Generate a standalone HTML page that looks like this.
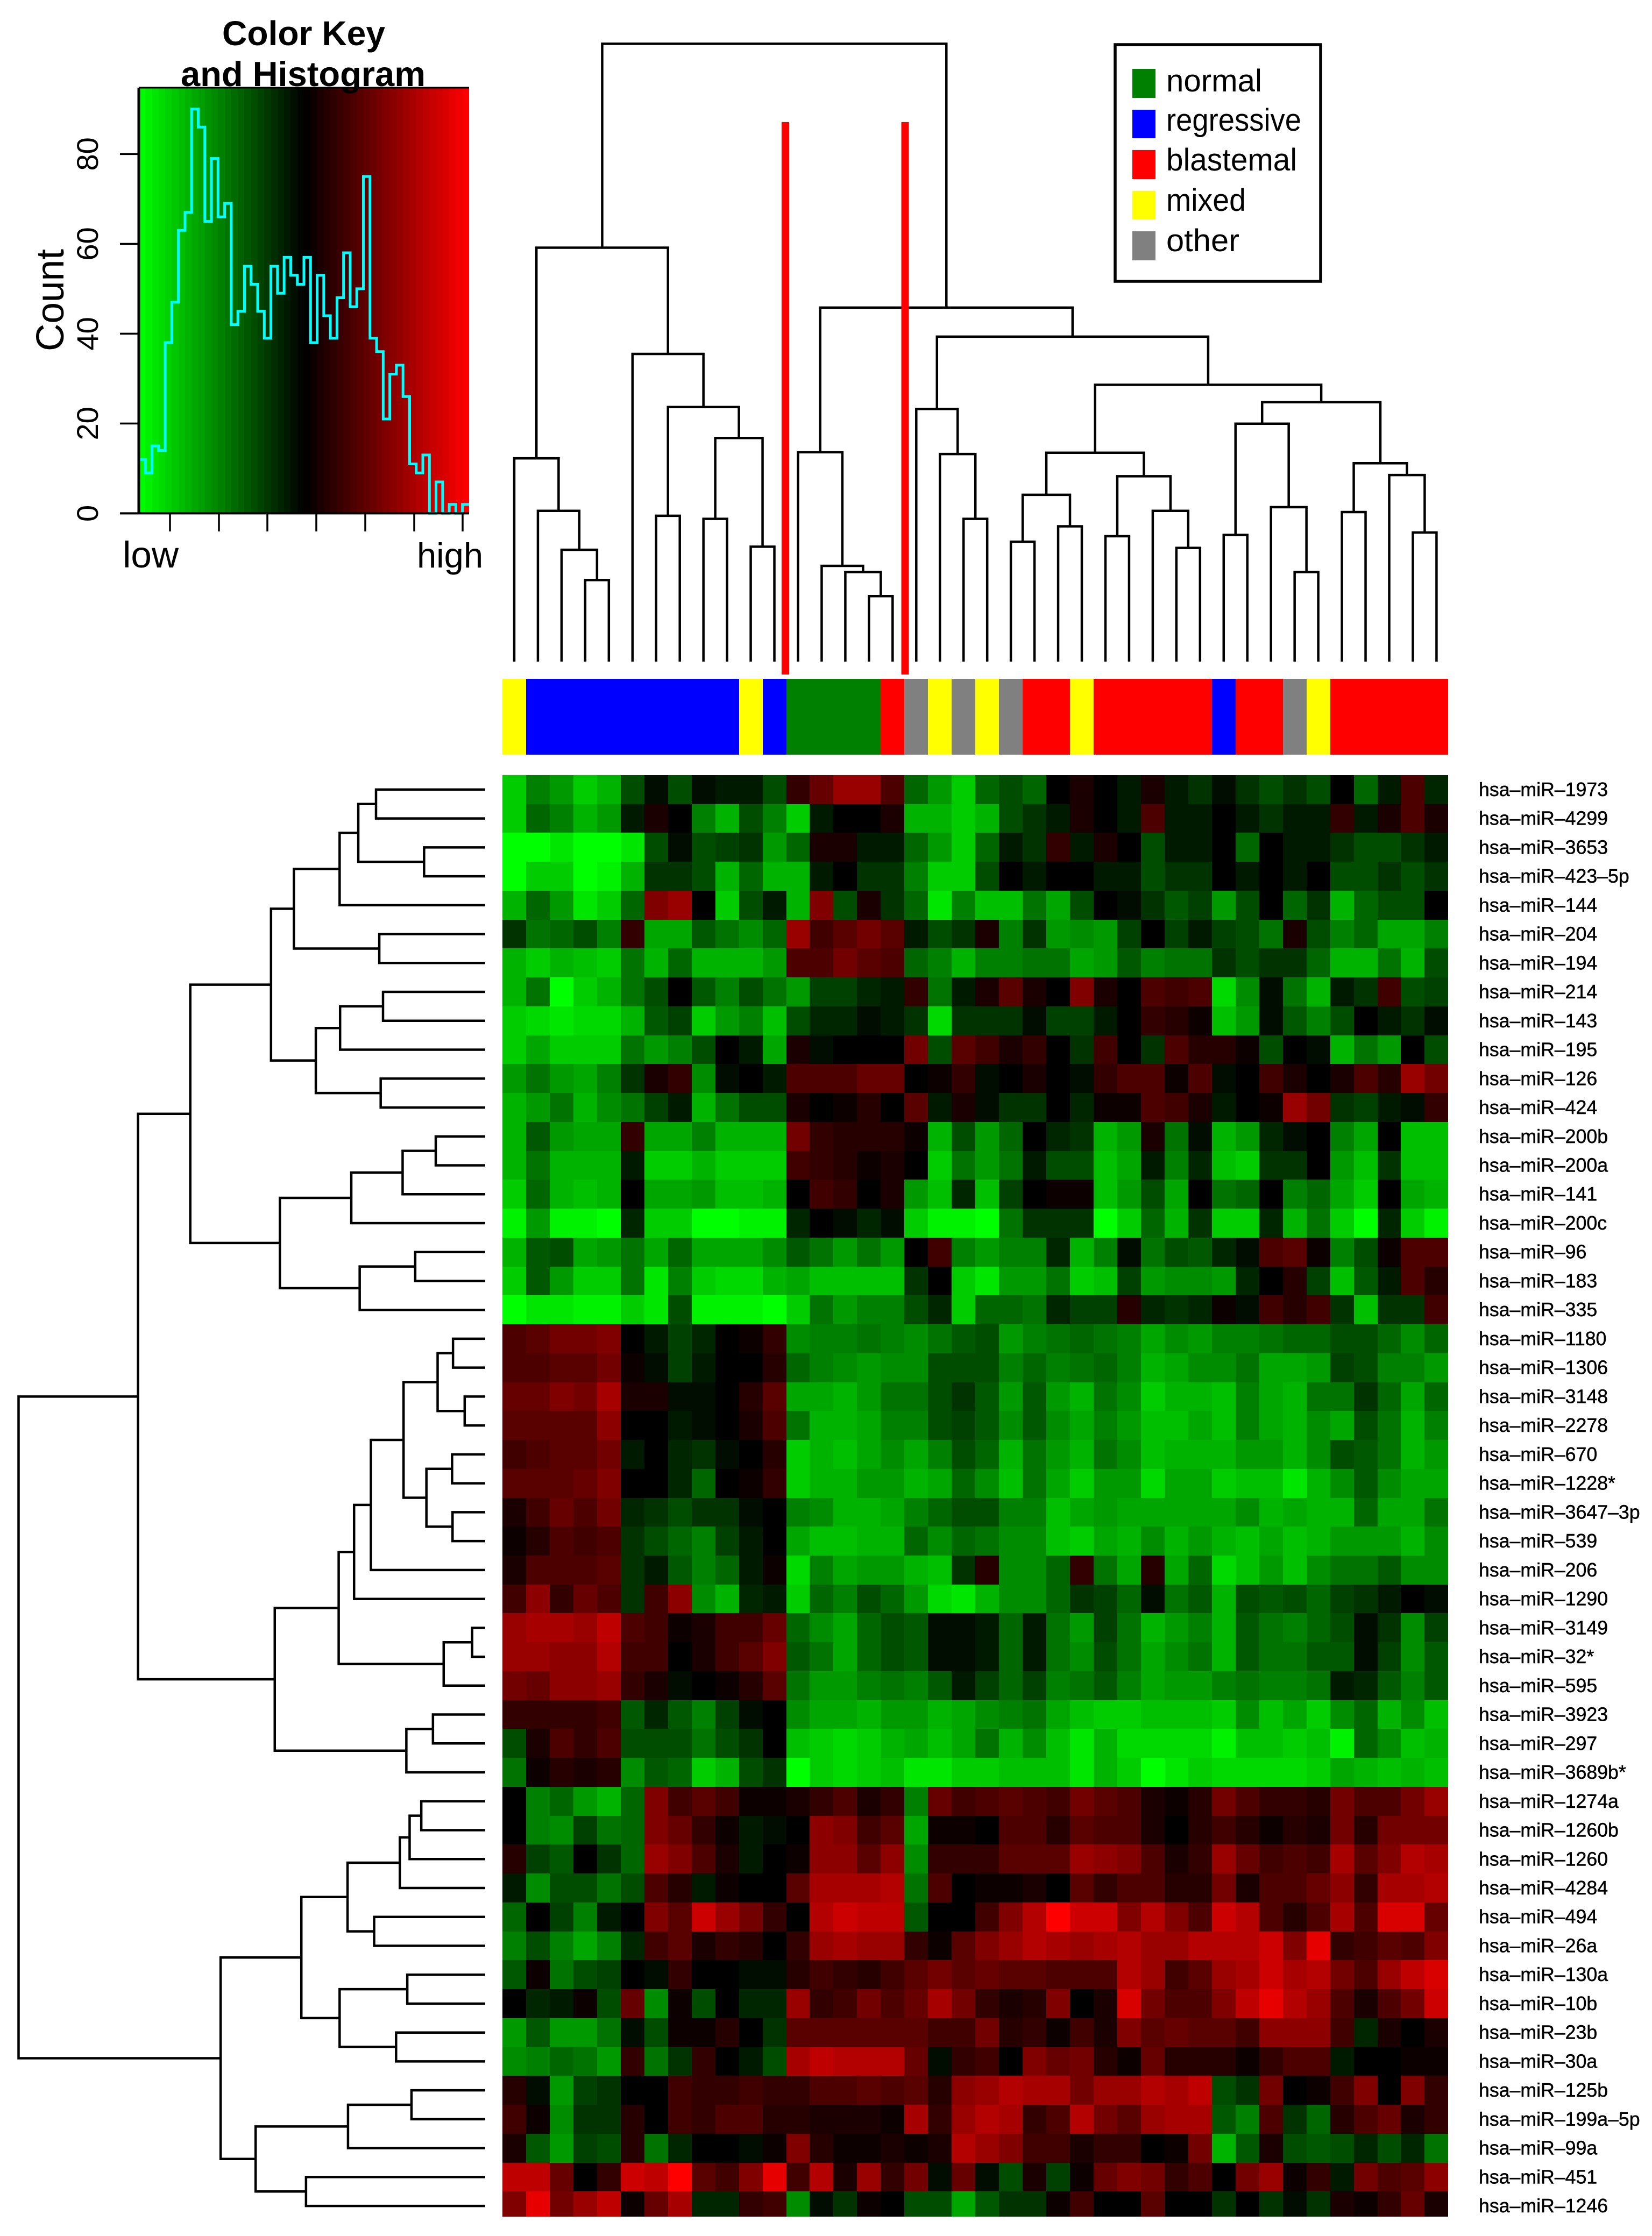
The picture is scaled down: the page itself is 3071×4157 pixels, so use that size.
<!DOCTYPE html>
<html lang="en">
<head>
<meta charset="utf-8">
<title>miRNA clustered heatmap</title>
<style>
html,body{margin:0;padding:0;background:#fff;width:3071px;height:4157px;overflow:hidden}
svg{display:block}
text{font-family:"Liberation Sans",sans-serif;fill:#000}
</style>
</head>
<body>
<svg id="chart" xmlns="http://www.w3.org/2000/svg" width="3071" height="4157" viewBox="0 0 3071 4157">
  <rect x="0" y="0" width="3071" height="4157" fill="#fff"/>
  <g id="key"></g>
  <g id="topTree"></g>
  <g id="leftTree"></g>
  <g id="colorBar"></g>
  <g id="heat" shape-rendering="crispEdges"></g>
  <g id="labels"></g>

  <rect x="1453" y="227" width="14" height="1027" fill="#ff0000"/>
  <rect x="1675.5" y="227" width="14" height="1027" fill="#ff0000"/>

  <g>
    <rect x="2073" y="83" width="382" height="440" fill="#fff" stroke="#000" stroke-width="5.5"/>
    <rect x="2105" y="128" width="43" height="54" fill="#008000"/>
    <rect x="2105" y="204" width="43" height="53" fill="#0000ff"/>
    <rect x="2105" y="279" width="43" height="54" fill="#ff0000"/>
    <rect x="2105" y="355" width="43" height="53" fill="#ffff00"/>
    <rect x="2105" y="430" width="43" height="54" fill="#808080"/>
    <text x="2168" y="170" font-size="58" textLength="178" lengthAdjust="spacingAndGlyphs">normal</text>
    <text x="2168" y="243" font-size="58" textLength="251" lengthAdjust="spacingAndGlyphs">regressive</text>
    <text x="2168" y="317" font-size="58" textLength="243" lengthAdjust="spacingAndGlyphs">blastemal</text>
    <text x="2168" y="392" font-size="58" textLength="148" lengthAdjust="spacingAndGlyphs">mixed</text>
    <text x="2168" y="467" font-size="58" textLength="136" lengthAdjust="spacingAndGlyphs">other</text>
  </g>
</svg>

<script>
// ---------- data ----------
const rowLabels = ["hsa–miR–1973","hsa–miR–4299","hsa–miR–3653","hsa–miR–423–5p","hsa–miR–144","hsa–miR–204","hsa–miR–194","hsa–miR–214","hsa–miR–143","hsa–miR–195","hsa–miR–126","hsa–miR–424","hsa–miR–200b","hsa–miR–200a","hsa–miR–141","hsa–miR–200c","hsa–miR–96","hsa–miR–183","hsa–miR–335","hsa–miR–1180","hsa–miR–1306","hsa–miR–3148","hsa–miR–2278","hsa–miR–670","hsa–miR–1228*","hsa–miR–3647–3p","hsa–miR–539","hsa–miR–206","hsa–miR–1290","hsa–miR–3149","hsa–miR–32*","hsa–miR–595","hsa–miR–3923","hsa–miR–297","hsa–miR–3689b*","hsa–miR–1274a","hsa–miR–1260b","hsa–miR–1260","hsa–miR–4284","hsa–miR–494","hsa–miR–26a","hsa–miR–130a","hsa–miR–10b","hsa–miR–23b","hsa–miR–30a","hsa–miR–125b","hsa–miR–199a–5p","hsa–miR–99a","hsa–miR–451","hsa–miR–1246"];

const columnClasses = ["mixed","regressive","regressive","regressive","regressive","regressive","regressive","regressive","regressive","regressive","mixed","regressive","normal","normal","normal","normal","blastemal","other","mixed","other","mixed","other","blastemal","blastemal","mixed","blastemal","blastemal","blastemal","blastemal","blastemal","regressive","blastemal","blastemal","other","mixed","blastemal","blastemal","blastemal","blastemal","blastemal"];

const classColors = {normal:"#008000",regressive:"#0000ff",blastemal:"#ff0000",mixed:"#ffff00",other:"#808080"};

const heatValues = [
[-8,-5,-6,-8,-7,-3,-.5,-3,-.5,-1,-1,-3,2,4,6,6,3,-4,-6,-8,-4,-3,-4,0,1,0,-1,1,-1,-2,-.5,-2,-3,-2,-3,0,-4,-1,3,-1.5],
[-8,-4,-5,-7,-6,-1,1,0,-5,-7,-3,-5,-8,-1,0,0,1,-7,-7,-8,-7,-3,-2,-1,1,0,-1,3,-1,-1,0,-1,-2,-1,-1,2,-1,1,3,1],
[-10,-10,-9,-10,-10,-9,-3,-.5,-3,-2.5,-2,-6,-4,1,1,-1,-1,-4,-6,-8,-4,-1,-2,2,-1,1,0,-3,-1,-1,0,-4,0,-1,-1,-2,-3,-3,-2,-1],
[-10,-8,-8,-10,-9.5,-7,-2,-2,-3,-7,-4,-7,-7,-1,0,-2,-2,-5,-8,-8,-3,0,-1,0,0,-1,-1,-3,-2,-2,0,-1,0,-1,0,-3,-3,-2,-3,-2],
[-7,-4,-6,-9,-8,-4,5,6,0,-8,-3,-1,-7,5,-3,1,-2,-4,-9,-5,-7.5,-7.5,-4.5,-6.5,-3,0,-.5,-2,-3.5,-2.5,-6,-3,0,-4,-2,-7,-4,-3,-3,0],
[-2,-4.5,-4,-3,-5,2,-6.5,-6.5,-3.5,-4.5,-5.5,-4,6,2.5,3.5,4.5,3.5,-1,-3,-2,1,-5,-2,-6,-5.5,-6,-2.5,0,-2.5,-1,-2.5,-3,-4.5,1,-3,-5,-4,-6.5,-6.5,-5],
[-7,-8,-7,-7.5,-8,-4.5,-7,-4,-7,-7,-7,-6,3,3,4.5,3.5,3,-4,-5,-7,-5,-5,-4.5,-4.5,-6.5,-6,-3.5,-5,-4.5,-4.5,-2,-3,-2,-2,-4,-7,-7,-4.5,-7,-3],
[-7,-4.5,-10,-8,-7,-4.5,-3,0,-3.5,-5,-3,-4.5,-6,-2.5,-2.5,-1.5,-1,2,-4.5,-1,1,3.5,1,0,5,1,0,3,2.5,3,-8.5,-5.5,-.5,-4.5,-7,-1,-2,2.5,-3,-2.5],
[-8,-8.5,-9,-8.5,-8.5,-7,-3.5,-2.5,-8,-6,-5,-7.5,-3,-1.5,-1.5,-.5,-1,-2,-8.5,-2,-2,-2,-.5,-2.5,-2.5,-1,0,2,1.5,.5,-7.5,-6,-.5,-3.5,-5,-3,0,-1,-2,-.5],
[-8,-6.5,-8,-8,-8,-4.5,-6,-5,-3,0,-1,-6.5,1,-.5,0,0,0,4.5,-3,3.5,2.5,1,2,0,-2,2.5,0,-2,3,1.5,1.5,.5,-3,0,-.5,-7,-4.5,-6,0,-3],
[-6,-4.5,-6,-6.5,-5,-2,1,2,-5.5,-.5,0,-1,3,3,3,4,4,0,.5,2,-.5,0,1,0,-.5,2,3,3,.5,3,-.5,0,2.5,1,0,1,3,1.5,6,4.5],
[-7,-6,-4.5,-7,-5.5,-4.5,-2.5,-1,-7,-4.5,-3,-3,1,0,.5,1.5,0,3.5,-1,1,-.5,-2,-2,0,-1.5,.5,.5,3,2.5,1,-1,0,.5,6,4.5,-2,-2.5,-1,-.5,2],
[-7,-3.5,-6,-6.5,-6.5,2,-6.5,-6.5,-5,-7,-7,-7,4.5,2,1.5,1.5,1.5,.5,-7,-3,-6,-4,0,-1.5,-2,-7,-6,1,-4.5,-.5,-7,-6,-1.5,-.5,0,-5,-6.5,0,-7.5,-7.5],
[-7,-4.5,-7,-7,-7,-1,-8,-8,-7,-8,-8,-8,2.5,2,1.5,.5,1,0,-8,-4.5,-6,-4.5,-1,-3,-3,-7.5,-6.5,-1,-5,-1.5,-7.5,-8,-2,-2,0,-6,-7.5,-2,-7.5,-7.5],
[-8,-4,-7,-7.5,-7,0,-6.5,-6.5,-6,-7.5,-7.5,-7,0,2.5,2,0,1,-6,-7.5,-1.5,-7.5,-2.5,0,.5,.5,-7.5,-6,-3,-6.5,0,-4.5,-4,0,-5,-4,-6.5,-8,0,-6.5,-7],
[-9.5,-6,-9.5,-9.5,-10,-1.5,-8,-8,-10,-10,-9.5,-9.5,-1.5,0,-.5,-1.5,-.5,-8,-9.5,-9.5,-10,-4.5,-2,-2,-2,-10,-8,-4,-7,-2,-8,-8,-1.5,-7,-4.5,-8,-10,-1.5,-8,-9.5],
[-7,-3.5,-3,-6.5,-6,-4.5,-6.5,-4,-6.5,-6.5,-6.5,-5.5,-3.5,-4.5,-6,-4.5,-6,0,2.5,-5,-6,-5,-5,-1.5,-7,-5,-.5,-4.5,-3,-3.5,-1.5,-.5,3,3.5,.5,-5,-3,.5,3,3],
[-8,-3.5,-6,-8,-8,-4.5,-9,-5,-8,-8.5,-8.5,-7,-6.5,-7.5,-7.5,-7.5,-7.5,-2,0,-8,-9,-6,-6,-4.5,-8,-7.5,-2.5,-6,-5.5,-5.5,-6,-1.5,0,1.5,-2.5,-7.5,-3.5,-1,3,1.5],
[-10,-9,-9,-9.5,-9.5,-8,-9,-3,-9.5,-9.5,-9.5,-10,-8,-4.5,-6,-5,-5,-3,-1.5,-8,-4,-4,-4.5,-1.5,-2.5,-2.5,1.5,-1.5,-2,-1.5,.5,-.5,2.5,1.5,2.5,-2,-7.5,-2,-2,2.5],
[3,3.5,4.5,4.5,5,0,-1,-2.5,-1.5,0,.5,2,-5.5,-5,-5,-4.5,-5,-5.5,-4.5,-3.5,-3,-6,-5,-4.5,-4,-4.5,-5,-6.5,-5.5,-6,-5,-5,-4.5,-4,-4,-3,-3,-4,-5.5,-4],
[3,3,3.5,3.5,4.5,.5,-.5,-2.5,-1,0,0,1.5,-4,-5,-5.5,-6,-5.5,-5.5,-3,-3,-3,-5,-4,-5,-4.5,-4,-5,-7,-6.5,-5.5,-5.5,-4.5,-6.5,-6.5,-6,-2.5,-3,-5,-5,-6],
[4,4,5,4.5,6.5,1,1,-.5,-.5,0,1.5,3.5,-6.5,-6.5,-7,-6,-4.5,-4.5,-3,-2,-3.5,-6,-3.5,-6,-7,-4.5,-5.5,-8,-7,-7,-7.5,-5,-6.5,-7,-4.5,-4.5,-2,-4,-6.5,-4],
[3.5,3.5,3.5,3.5,5.5,0,0,-1,-.5,0,1,3,-4.5,-7,-7,-6.5,-5,-5,-3,-2.5,-3.5,-5.5,-3.5,-5.5,-6.5,-5,-6,-7.5,-7.5,-6.5,-7.5,-5,-6.5,-7,-5.5,-6.5,-3,-4.5,-7,-5],
[2.5,3,3.5,3.5,4.5,-1,0,-1.5,-2,-.5,0,1.5,-8,-7,-7.5,-6.5,-5.5,-6.5,-5,-3,-4,-7,-4.5,-6,-7,-4.5,-5.5,-7.5,-7,-7,-7,-6,-6,-7,-5.5,-3,-3.5,-4.5,-7,-6],
[3.5,3.5,3.5,4,5,0,0,-1.5,-4,0,.5,2,-8,-7,-7,-6,-6,-7,-6.5,-4,-5.5,-7.5,-4.5,-6.5,-8,-6,-6,-8.5,-6.5,-6.5,-8,-7.5,-7.5,-9,-7,-5.5,-3.5,-5.5,-6.5,-6.5],
[1,2.5,4,3,4.5,-1.5,-2,-3,-2,-2,-.5,0,-5,-5.5,-7,-7,-6.5,-5,-4,-3,-3,-5,-5,-7.5,-6.5,-6,-6.5,-6.5,-6.5,-6.5,-6.5,-5.5,-7,-6.5,-7,-7,-4,-6.5,-6.5,-4.5],
[.5,1.5,3,2.5,3,-2,-3,-4,-5,-2.5,-1,0,-6.5,-7.5,-7.5,-7,-7,-4,-5.5,-4,-4.5,-5.5,-5.5,-7.5,-8,-6.5,-7,-5.5,-7,-6,-7,-7.5,-6.5,-7.5,-7,-6,-6,-6,-7,-5.5],
[1,3,3,3,3.5,-2,-1,-3.5,-5,-4,-1,.5,-8.5,-5,-6.5,-6,-6,-7,-7.5,-2,1.5,-5.5,-5.5,-4,2,-4.5,-6.5,1.5,-6.5,-4,-8.5,-7.5,-6,-7.5,-5.5,-4.5,-4.5,-3.5,-5.5,-5.5],
[2.5,5.5,2,4,3,-2,2.5,5.5,-5.5,-7,-1.5,-1,-8,-4,-5,-3,-4,-6,-8.5,-9,-7,-5.5,-5.5,-4,-2,-2.5,-4,-.5,-4.5,-3.5,-7,-3,-3.5,-3,-4,-2.5,-2,-1,0,-.5],
[6,6.5,6.5,6,7.5,3,2.5,.5,1,2.5,2.5,4,-4,-5.5,-6.5,-4,-3,-3.5,-.5,-.5,-1,-4,-1,-4.5,-6,-2.5,-4.5,-7,-6,-5,-7,-3.5,-4.5,-5,-4,-3,-.5,-2,-5.5,-2.5],
[6,6,5.5,5.5,7,2.5,2.5,0,1,2.5,3.5,5,-3.5,-4.5,-6.5,-4,-3,-3.5,-.5,-.5,-1,-4,-1,-4.5,-5.5,-3,-4.5,-6.5,-5.5,-4.5,-7,-3.5,-4.5,-4.5,-3.5,-3.5,-.5,-2.5,-5.5,-3.5],
[4.5,4,5.5,5.5,6,2,1,-.5,0,.5,1.5,3.5,-4.5,-6,-6,-5,-4.5,-5,-3.5,-1,-2.5,-4,-2.5,-5,-4.5,-3.5,-5,-6.5,-6,-6,-5,-4.5,-5,-5,-4.5,-1,-1.5,-3.5,-5,-3.5],
[2,2,2,2,2.5,-3.5,-1.5,-3.5,-5,-2.5,-.5,0,-5.5,-6.5,-6.5,-7,-6,-6,-7,-6.5,-5.5,-5,-4.5,-6.5,-7.5,-8,-8,-7.5,-7.5,-7.5,-8,-5.5,-7.5,-6.5,-8,-5.5,-4,-7,-5.5,-7.5],
[-3,1,3,2,3,-3,-3,-3,-4.5,-3,-2,0,-7.5,-8,-8.5,-8,-7,-6.5,-7.5,-6.5,-4.5,-7,-5.5,-7.5,-9,-7,-8.5,-8.5,-8.5,-8.5,-9.5,-7.5,-7.5,-8,-7.5,-9.5,-4,-5.5,-7.5,-7],
[-4.5,.5,1.5,1,1.5,-5.5,-3.5,-4,-8,-7,-3,-2,-10,-8,-8.5,-8,-7.5,-9,-9,-8,-8,-7.5,-7.5,-7.5,-9,-7,-8,-10,-9,-8,-8.5,-8.5,-8.5,-8.5,-8,-6.5,-7,-7.5,-7,-7.5],
[0,-5,-4,-6,-7,-4,5,2.5,3.5,2.5,.5,.5,1,2,3,1,2,-5,4,2.5,3,3.5,3,2.5,4.5,3.5,3,1,.5,1.5,4.5,3,2,2,1.5,4.5,3,3,4.5,6],
[0,-5,-5.5,-2.5,-4.5,-4,5,4,2,.5,-1,-.5,0,5.5,5,2.5,3.5,-6.5,.5,.5,0,3,3,1.5,3.5,3,3,1,0,1.5,2.5,1.5,.5,1.5,1,4.5,1.5,4.5,4.5,4.5],
[1.5,-2.5,-3.5,0,-2,-4,6,5,3,1,-1,0,.5,5.5,5.5,3.5,5.5,-5.5,2,2,2,3.5,3.5,3.5,6,5.5,5,3,1,2,6,4,2.5,3,2.5,6.5,3.5,5,7,6.5],
[-1,-5.5,-3,-3,-4.5,-3,3,1.5,-1,.5,0,0,3.5,6.5,6.5,6.5,7,-4.5,3,0,.5,.5,1,0,3.5,2,3,3,1.5,1.5,4.5,1,3,3,4,5.5,2,6.5,6.5,7],
[-4,0,-2.5,-5,-1,0,5,3.5,8,6,4.5,2,0,7,8,7.5,7.5,-3.5,0,0,2.5,5,7,10,8,8,5,7,5,3,8,7,3,1.5,3,6.5,3,8.5,8.5,4],
[-5,-3,-5,-6.5,-5,-1.5,2.5,3.5,1,2,1.5,0,2,6,6.5,6,6,2,.5,3.5,5,6,7,6.5,6,6.5,7,6,6,7,7,7,8,5,9,2,2.5,3.5,3,5],
[-3.5,.5,-4.5,-3,-2.5,0,-.5,2,0,0,-.5,-.5,1.5,2.5,2,1.5,2.5,3.5,4.5,3.5,4,3.5,3.5,3,3,3,7,6,2.5,3.5,6,6.5,8,6.5,7,4.5,3,6,7.5,8.5],
[0,-1.5,-1,.5,-3,4,-5.5,.5,-3,0,-1.5,-1.5,6,2,2.5,4.5,3,4,6.5,4.5,2,1,1.5,5,0,1,8.5,4.5,3,3,5,7.5,9,7,6,3,1,3,4.5,8],
[-6,-3.5,-6,-6,-4.5,-.5,-3,.5,.5,1.5,0,-2,3.5,3.5,3.5,3.5,3.5,3.5,2.5,2.5,4.5,1.5,2,.5,2.5,1,5,3.5,4,3.5,3.5,2.5,5.5,5.5,5.5,2.5,-1.5,1,0,1],
[-5.5,-5,-4,-4.5,-6,2,-4.5,-2,2,0,-1,-3,6.5,7.5,7,7,7,4,-.5,2,2.5,0,5,4,4.5,1.5,.5,4,1.5,1.5,1.5,.5,2,3,3,-1,0,0,.5,.5],
[1.5,-.5,-6,-2.5,-2,0,0,2.5,2,2,2.5,2,2,3,3,3.5,3,3.5,1.5,5.5,6,7,6.5,6.5,4.5,6,6,7,6.5,7.5,-3,-2,4.5,0,.5,2.5,5,0,5,2],
[2.5,.5,-5.5,-2,-2,1.5,0,2.5,2,3,3,1.5,1.5,1,1,1,.5,6.5,2,6,7,6.5,2,3,7,4.5,3.5,6,6.5,6.5,-3.5,-5,3,-2,-4,1.5,3,4,1,2],
[1,-3.5,-6,-2.5,-3,1.5,-4.5,-1.5,0,0,-.5,.5,5,1.5,.5,.5,1,.5,1,7,6,5,2.5,2.5,1,2,2,0,.5,4.5,-7,-3.5,1,-3,-3.5,-3,-1.5,-3,-1.5,-4.5],
[7.5,7.5,4,0,2,8,7.5,10,3.5,2.5,5,9,2.5,7,1,6,2,4.5,-.5,4,-.5,-3,1,-2.5,.5,4,5,4.5,2,3,0,4.5,6,.5,2,-1,4.5,3,3.5,5.5],
[5,9,4.5,6,7.5,.5,4,6.5,-1.5,-1.5,2,2.5,-5.5,-.5,-2,.5,0,-3,-3,-6.5,-3.5,-2,-2,.5,2.5,0,0,3.5,0,0,-2,0,-2,-.5,-2,1,.5,2,4,1]
];

const histCounts = [12,9,15,14,38,47,63,67,90,86,65,79,66,69,42,45,55,51,45,39,55,49,57,53,51,57,38,53,44,39,48,58,46,50,75,39,36,21,31,33,26,11,9,13,0,7,0,2,0,2];
const histYTicks = [0,20,40,60,80];
const keyXTicks = [316,407,497,588,679,770,860];

// dendrograms: [merge height, left child, right child]; plain numbers are leaf indices
const columnTree = [100,
 [67.0,
  [32.9,0,[24.4,1,[18.1,2,[13.2,3,4]]]],
  [49.8,5,[41.2,[23.6,6,7],[36.2,[23.1,8,9],[18.6,10,11]]]]],
 [57.3,
  [33.9,12,[15.5,13,[14.5,14,[10.6,15,16]]]],
  [52.6,
   [40.9,17,[33.6,18,[23.1,19,20]]],
   [44.8,
    [33.8,[27.0,[19.4,21,22],[21.9,23,24]],[30.0,[20.3,25,26],[24.4,27,[18.4,28,29]]]],
    [42.0,[38.5,[20.5,30,31],[25.0,32,[14.5,33,34]]],[32.1,[24.2,35,36],[30.2,37,[20.9,38,39]]]]]]]];

const rowTree = [100,
 [74.4,
  [63.2,
   [45.9,
    [41.0,[31.2,[27.2,[23.4,0,1],[13.1,2,3]],4],[22.7,5,6]],
    [36.3,[31.1,[21.9,7,8],9],[22.4,10,11]]],
   [44.0,
    [28.7,[17.7,[10.6,12,13],14],15],
    [26.9,[15.0,16,17],18]]],
  [45.1,
   [31.4,
    [28.1,[24.5,[17.5,[10.2,[6.9,19,20],[4.4,21,22]],[12.6,[7.1,23,24],[7.0,25,26]]],27],28],
    [8.9,[2.8,29,30],31]],
   [16.9,[11.2,32,33],34]]],
 [56.7,
  [39.4,
   [29.5,[18.3,[16.2,[13.7,35,36],37],38],[23.8,39,40]],
   [31.2,[16.7,41,42],[19.1,43,44]]],
  [49.2,
   [29.4,[15.8,45,46],47],
   [38.4,48,49]]]];

// ---------- axis functions ----------
const NS = "http://www.w3.org/2000/svg";
const heatLeft = 934, colWidth = 43.96, heatTop = 1441, rowHeight = 53.74, heatBottom = 4121;
const heatX = c => heatLeft + c * colWidth;
const heatY = r => heatTop + r * rowHeight;
const topDendroY = h => 1230 - h * 11.486;
const leftDendroX = h => 902 - h * 8.675;
const keyLeft = 258, keyRight = 872, keyTop = 163, keyBottom = 954.4;
const histX = i => keyLeft + i * (keyRight - keyLeft) / 50;
const histY = n => keyBottom - n * 8.351;

function colorFor(v) {
  const m = Math.round(Math.min(10, Math.abs(v)) * 25.5);
  return v < 0 ? "rgb(0," + m + ",0)" : "rgb(" + m + ",0,0)";
}
function make(tag, attrs, parent) {
  const el = document.createElementNS(NS, tag);
  for (const k in attrs) el.setAttribute(k, attrs[k]);
  parent.appendChild(el);
  return el;
}

// ---------- heatmap ----------
const heatGroup = document.getElementById("heat");
heatValues.forEach((row, r) => {
  row.forEach((v, c) => {
    const x0 = Math.round(heatX(c)), x1 = Math.round(heatX(c + 1));
    const y0 = Math.round(heatY(r)), y1 = Math.min(heatBottom, Math.round(heatY(r + 1)));
    const cell = make("rect", {x: x0, y: y0, width: x1 - x0, height: y1 - y0, fill: colorFor(v)}, heatGroup);
    
    
  });
});

// ---------- row labels ----------
const labelGroup = document.getElementById("labels");
rowLabels.forEach((label, r) => {
  const t = make("text", {x: 2749, y: heatY(r) + rowHeight / 2 + 12, "font-size": 35.7, stroke: "#000", "stroke-width": 0.5}, labelGroup);
  t.textContent = label;
  
  
});

// ---------- column colour bar ----------
const barGroup = document.getElementById("colorBar");
columnClasses.forEach((cls, c) => {
  const x0 = Math.round(heatX(c)), x1 = Math.round(heatX(c + 1));
  const b = make("rect", {x: x0, y: 1262, width: x1 - x0, height: 141, fill: classColors[cls], "shape-rendering": "crispEdges"}, barGroup);
  
  
});

// ---------- dendrograms ----------
function drawColumnNode(node, group) {
  if (typeof node === "number") return {pos: heatX(node) + colWidth / 2, y: topDendroY(0)};
  const a = drawColumnNode(node[1], group), b = drawColumnNode(node[2], group);
  const y = topDendroY(node[0]);
  const p = make("path", {d: "M" + a.pos + " " + a.y + "V" + y + "H" + b.pos + "V" + b.y, fill: "none", stroke: "#000", "stroke-width": 4.5, "stroke-linejoin": "miter"}, group);
  
  
  return {pos: (a.pos + b.pos) / 2, y: y};
}
function drawRowNode(node, group) {
  if (typeof node === "number") return {pos: heatY(node) + rowHeight / 2, x: leftDendroX(0)};
  const a = drawRowNode(node[1], group), b = drawRowNode(node[2], group);
  const x = leftDendroX(node[0]);
  const p = make("path", {d: "M" + a.x + " " + a.pos + "H" + x + "V" + b.pos + "H" + b.x, fill: "none", stroke: "#000", "stroke-width": 4.5, "stroke-linejoin": "miter"}, group);
  
  
  return {pos: (a.pos + b.pos) / 2, x: x};
}
drawColumnNode(columnTree, document.getElementById("topTree"));
drawRowNode(rowTree, document.getElementById("leftTree"));

// ---------- colour key + histogram ----------
const keyGroup = document.getElementById("key");
for (let i = 0; i < 50; i++) {
  const x0 = Math.round(histX(i)), x1 = Math.round(histX(i + 1));
  const band = make("rect", {x: x0, y: keyTop, width: x1 - x0, height: keyBottom - keyTop, fill: colorFor(-10 + 20 * (i + 0.5) / 50), "shape-rendering": "crispEdges"}, keyGroup);
  
  
}
let histPath = "M" + histX(0) + " " + histY(histCounts[0]);
histCounts.forEach((n, i) => { histPath += "V" + histY(n) + "H" + histX(i + 1); });
const histLine = make("path", {d: histPath, fill: "none", stroke: "#00ffff", "stroke-width": 5}, keyGroup);



const keyLeftLine = make("path", {d: "M" + keyLeft + " " + keyTop + "V" + keyBottom, stroke: "#000", "stroke-width": 5, fill: "none"}, keyGroup);


const keyTopLine = make("path", {d: "M" + keyLeft + " " + keyTop + "H" + keyRight, stroke: "#000", "stroke-width": 3, fill: "none"}, keyGroup);


const keyBottomLine = make("path", {d: "M223 " + keyBottom + "H" + keyRight, stroke: "#000", "stroke-width": 4, fill: "none"}, keyGroup);



histYTicks.forEach(n => {
  const y = histY(n);
  const tick = make("path", {d: "M223 " + y + "H" + keyLeft, stroke: "#000", "stroke-width": 3.5, fill: "none"}, keyGroup);
  
  
  const t = make("text", {x: 0, y: 0, "font-size": 56, "text-anchor": "middle", transform: "translate(182 " + y + ") rotate(-90)"}, keyGroup);
  t.textContent = String(n);
  
  
});
keyXTicks.forEach(x => {
  const tick = make("path", {d: "M" + x + " " + keyBottom + "V988", stroke: "#000", "stroke-width": 3.5, fill: "none"}, keyGroup);
  
  
});

const countTitle = make("text", {x: 0, y: 0, "font-size": 72, "text-anchor": "middle", textLength: 190, lengthAdjust: "spacingAndGlyphs", transform: "translate(118 558) rotate(-90)"}, keyGroup);
countTitle.textContent = "Count";



const lowLabel = make("text", {x: 228, y: 1055, "font-size": 69, textLength: 104, lengthAdjust: "spacingAndGlyphs"}, keyGroup);
lowLabel.textContent = "low";


const highLabel = make("text", {x: 775, y: 1055, "font-size": 65, textLength: 123, lengthAdjust: "spacingAndGlyphs"}, keyGroup);
highLabel.textContent = "high";



const titleLine1 = make("text", {x: 413, y: 84, "font-size": 64, "font-weight": "bold", textLength: 303, lengthAdjust: "spacingAndGlyphs"}, keyGroup);
titleLine1.textContent = "Color Key";


const titleLine2 = make("text", {x: 336, y: 160, "font-size": 65, "font-weight": "bold", textLength: 455, lengthAdjust: "spacingAndGlyphs"}, keyGroup);
titleLine2.textContent = "and Histogram";


</script>
</body>
</html>
